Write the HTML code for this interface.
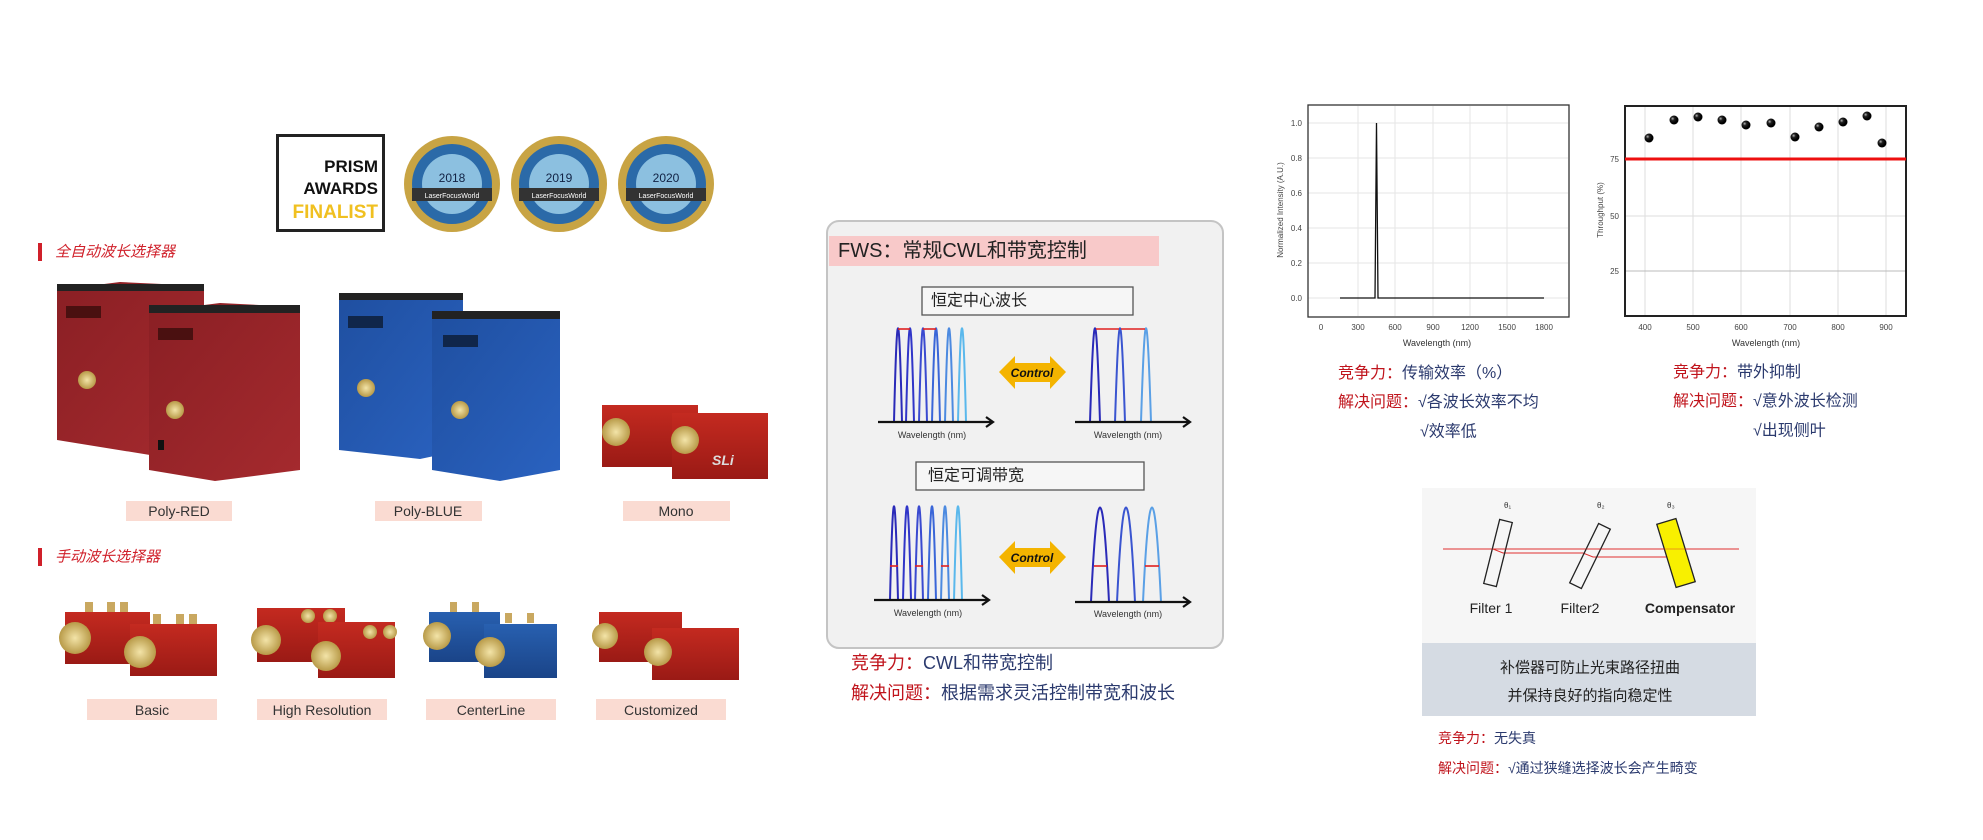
<!DOCTYPE html>
<html><head><meta charset="utf-8"><style>
html,body{margin:0;padding:0;background:#fff;}
svg{display:block;}
text{font-family:"Liberation Sans","Noto Sans CJK SC",sans-serif;}
</style></head><body>
<svg width="1983" height="840" viewBox="0 0 1983 840" xmlns="http://www.w3.org/2000/svg">
<defs>
<linearGradient id="rd" x1="0" y1="0" x2="1" y2="1"><stop offset="0" stop-color="#8a1f24"/><stop offset="1" stop-color="#a52a2e"/></linearGradient>
<linearGradient id="bl" x1="0" y1="0" x2="1" y2="1"><stop offset="0" stop-color="#1f4fa0"/><stop offset="1" stop-color="#2a62c0"/></linearGradient>
<linearGradient id="sr" x1="0" y1="0" x2="0" y2="1"><stop offset="0" stop-color="#c42a20"/><stop offset="1" stop-color="#9a1a15"/></linearGradient>
<linearGradient id="sb" x1="0" y1="0" x2="0" y2="1"><stop offset="0" stop-color="#2860b0"/><stop offset="1" stop-color="#1a4488"/></linearGradient>
<radialGradient id="gold"><stop offset="0" stop-color="#f3e4a8"/><stop offset="1" stop-color="#b89a48"/></radialGradient>
<radialGradient id="ball" cx="0.35" cy="0.35"><stop offset="0" stop-color="#bbb"/><stop offset="0.4" stop-color="#222"/><stop offset="1" stop-color="#000"/></radialGradient>
</defs>

<!-- PRISM -->
<rect x="277.5" y="135.5" width="106" height="95" fill="#fff" stroke="#222" stroke-width="3"/>
<text x="378" y="172" font-size="17" font-weight="bold" text-anchor="end" fill="#111">PRISM</text>
<text x="378" y="194" font-size="17" font-weight="bold" text-anchor="end" fill="#111">AWARDS</text>
<text x="378" y="218" font-size="19" font-weight="bold" text-anchor="end" fill="#f0c020">FINALIST</text>
<!-- medals -->
<g>
<circle cx="452" cy="184" r="48" fill="#c8a444"/><circle cx="452" cy="184" r="40" fill="#2b6aa8"/><circle cx="452" cy="184" r="30" fill="#8cc0e0"/><rect x="412" y="188" width="80" height="13" fill="#333"/><text x="452" y="182" font-size="12" text-anchor="middle" fill="#124">2018</text><text x="452" y="198" font-size="7" text-anchor="middle" fill="#fff">LaserFocusWorld</text>
<circle cx="559" cy="184" r="48" fill="#c8a444"/><circle cx="559" cy="184" r="40" fill="#2b6aa8"/><circle cx="559" cy="184" r="30" fill="#8cc0e0"/><rect x="519" y="188" width="80" height="13" fill="#333"/><text x="559" y="182" font-size="12" text-anchor="middle" fill="#124">2019</text><text x="559" y="198" font-size="7" text-anchor="middle" fill="#fff">LaserFocusWorld</text>
<circle cx="666" cy="184" r="48" fill="#c8a444"/><circle cx="666" cy="184" r="40" fill="#2b6aa8"/><circle cx="666" cy="184" r="30" fill="#8cc0e0"/><rect x="626" y="188" width="80" height="13" fill="#333"/><text x="666" y="182" font-size="12" text-anchor="middle" fill="#124">2020</text><text x="666" y="198" font-size="7" text-anchor="middle" fill="#fff">LaserFocusWorld</text>
</g>

<!-- section headers -->
<rect x="38" y="243" width="4" height="18" fill="#d0202a"/>
<text x="55" y="252" font-size="15" font-style="italic" fill="#d0202a" dominant-baseline="central">全自动波长选择器</text>
<rect x="38" y="548" width="4" height="18" fill="#d0202a"/>
<text x="55" y="557" font-size="15" font-style="italic" fill="#d0202a" dominant-baseline="central">手动波长选择器</text>

<!-- Poly RED -->
<polygon points="57,290 120,282 204,286 204,445 150,455 57,440" fill="url(#rd)"/>
<rect x="57" y="284" width="147" height="7" fill="#222"/>
<rect x="66" y="306" width="35" height="12" fill="#4a1010"/>
<circle cx="87" cy="380" r="9" fill="url(#gold)"/>
<polygon points="149,312 220,303 300,307 300,470 215,481 149,470" fill="url(#rd)"/>
<rect x="149" y="305" width="151" height="8" fill="#222"/>
<rect x="158" y="328" width="35" height="12" fill="#4a1010"/>
<circle cx="175" cy="410" r="9" fill="url(#gold)"/>
<rect x="158" y="440" width="6" height="10" fill="#111"/>
<!-- Poly BLUE -->
<polygon points="339,297 400,293 463,296 463,450 420,459 339,450" fill="url(#bl)"/>
<rect x="339" y="293" width="124" height="7" fill="#222"/>
<rect x="348" y="316" width="35" height="12" fill="#10264a"/>
<circle cx="366" cy="388" r="9" fill="url(#gold)"/>
<polygon points="432,315 500,311 560,314 560,470 500,481 432,470" fill="url(#bl)"/>
<rect x="432" y="311" width="128" height="8" fill="#222"/>
<rect x="443" y="335" width="35" height="12" fill="#10264a"/>
<circle cx="460" cy="410" r="9" fill="url(#gold)"/>
<!-- Mono -->
<rect x="602" y="405" width="96" height="62" fill="url(#sr)"/>
<circle cx="616" cy="432" r="14" fill="url(#gold)"/>
<rect x="672" y="413" width="96" height="66" fill="url(#sr)"/>
<circle cx="685" cy="440" r="14" fill="url(#gold)"/>
<text x="712" y="465" font-size="14" font-weight="bold" font-style="italic" fill="#ddd">SLi</text>

<!-- labels -->
<g font-size="14" fill="#333" text-anchor="middle">
<rect x="126" y="501" width="106" height="20" fill="#fadbd2"/><text x="179" y="516">Poly-RED</text>
<rect x="375" y="501" width="107" height="20" fill="#fadbd2"/><text x="428" y="516">Poly-BLUE</text>
<rect x="623" y="501" width="107" height="20" fill="#fadbd2"/><text x="676" y="516">Mono</text>
<rect x="87" y="699" width="130" height="21" fill="#fadbd2"/><text x="152" y="715">Basic</text>
<rect x="257" y="699" width="130" height="21" fill="#fadbd2"/><text x="322" y="715">High Resolution</text>
<rect x="426" y="699" width="130" height="21" fill="#fadbd2"/><text x="491" y="715">CenterLine</text>
<rect x="596" y="699" width="130" height="21" fill="#fadbd2"/><text x="661" y="715">Customized</text>
</g>

<!-- small products -->
<g>
<rect x="65" y="612" width="85" height="52" fill="url(#sr)"/><circle cx="75" cy="638" r="16" fill="url(#gold)"/>
<rect x="85" y="602" width="8" height="10" fill="#c9a860"/><rect x="107" y="602" width="8" height="10" fill="#c9a860"/><rect x="120" y="602" width="8" height="10" fill="#c9a860"/>
<rect x="130" y="624" width="87" height="52" fill="url(#sr)"/><circle cx="140" cy="652" r="16" fill="url(#gold)"/>
<rect x="153" y="614" width="8" height="10" fill="#c9a860"/><rect x="176" y="614" width="8" height="10" fill="#c9a860"/><rect x="189" y="614" width="8" height="10" fill="#c9a860"/>

<rect x="257" y="608" width="88" height="54" fill="url(#sr)"/><circle cx="266" cy="640" r="15" fill="url(#gold)"/><circle cx="308" cy="616" r="7" fill="url(#gold)"/><circle cx="330" cy="616" r="7" fill="url(#gold)"/>
<rect x="318" y="622" width="77" height="56" fill="url(#sr)"/><circle cx="326" cy="656" r="15" fill="url(#gold)"/><circle cx="370" cy="632" r="7" fill="url(#gold)"/><circle cx="390" cy="632" r="7" fill="url(#gold)"/>

<rect x="429" y="612" width="71" height="50" fill="url(#sb)"/><circle cx="437" cy="636" r="14" fill="url(#gold)"/><rect x="450" y="602" width="7" height="10" fill="#c9a860"/><rect x="472" y="602" width="7" height="10" fill="#c9a860"/>
<rect x="484" y="624" width="73" height="54" fill="url(#sb)"/><circle cx="490" cy="652" r="15" fill="url(#gold)"/><rect x="505" y="613" width="7" height="10" fill="#c9a860"/><rect x="527" y="613" width="7" height="10" fill="#c9a860"/>

<rect x="599" y="612" width="83" height="50" fill="url(#sr)"/><circle cx="605" cy="636" r="13" fill="url(#gold)"/>
<rect x="652" y="628" width="87" height="52" fill="url(#sr)"/><circle cx="658" cy="652" r="14" fill="url(#gold)"/>
</g>

<!-- middle panel -->
<rect x="827" y="221" width="396" height="427" rx="12" fill="#f1f1f1" stroke="#c4c4c4" stroke-width="2"/>
<rect x="829" y="236" width="330" height="30" fill="#f8c9c9"/>
<text x="838" y="251" font-size="20" fill="#222" dominant-baseline="central">FWS：常规CWL和带宽控制</text>
<rect x="922" y="287" width="211" height="28" fill="#f6f6f6" stroke="#555" stroke-width="1.3"/>
<text x="931" y="301" font-size="16" fill="#222" dominant-baseline="central">恒定中心波长</text>
<rect x="916" y="462" width="228" height="28" fill="#f6f6f6" stroke="#555" stroke-width="1.3"/>
<text x="928" y="476" font-size="16" fill="#222" dominant-baseline="central">恒定可调带宽</text>

<g fill="none" stroke-width="2">
<path d="M894 422 C897 297 899 297 902 422" stroke="#2a2ab8"/>
<path d="M906 422 C909 297 911 297 914 422" stroke="#3035c8"/>
<path d="M919 422 C922 297 924 297 927 422" stroke="#3a4ad0"/>
<path d="M932 422 C935 297 937 297 940 422" stroke="#3a66d8"/>
<path d="M945 422 C948 297 950 297 953 422" stroke="#4c8ae0"/>
<path d="M958 422 C961 297 963 297 966 422" stroke="#5ab8ec"/>
<path d="M1090 422 C1094 297 1096 297 1100 422" stroke="#2a2ab8"/>
<path d="M1115 422 C1119 297 1121 297 1125 422" stroke="#3a55d0"/>
<path d="M1141 422 C1145 297 1147 297 1151 422" stroke="#5aa0e6"/>
<path d="M890 600 C893 475 895 475 898 600" stroke="#2a2ab8"/>
<path d="M903 600 C906 475 908 475 911 600" stroke="#3035c8"/>
<path d="M915 600 C918 475 920 475 923 600" stroke="#3a4ad0"/>
<path d="M928 600 C931 475 933 475 936 600" stroke="#3a66d8"/>
<path d="M941 600 C944 475 946 475 949 600" stroke="#4c8ae0"/>
<path d="M954 600 C957 475 959 475 962 600" stroke="#5ab8ec"/>
<path d="M1091 602 C1097 476 1103 476 1109 602" stroke="#2a2ab8"/>
<path d="M1117 602 C1123 476 1129 476 1135 602" stroke="#3a55d0"/>
<path d="M1143 602 C1149 476 1155 476 1161 602" stroke="#5aa0e6"/>
</g>
<g stroke="#111" stroke-width="2.2" fill="none">
<path d="M878 422 H992 M986 417 L993 422 L986 427"/>
<path d="M1075 422 H1189 M1183 417 L1190 422 L1183 427"/>
<path d="M874 600 H988 M982 595 L989 600 L982 605"/>
<path d="M1075 602 H1189 M1183 597 L1190 602 L1183 607"/>
</g>
<g stroke="#e02020" stroke-width="1.6">
<line x1="898" y1="329" x2="910" y2="329"/><line x1="923" y1="329" x2="936" y2="329"/>
<line x1="1096" y1="329" x2="1119" y2="329"/><line x1="1121" y1="329" x2="1145" y2="329"/>
<line x1="890" y1="566" x2="898" y2="566"/><line x1="915" y1="566" x2="923" y2="566"/><line x1="941" y1="566" x2="949" y2="566"/>
<line x1="1094" y1="566" x2="1107" y2="566"/><line x1="1145" y1="566" x2="1159" y2="566"/>
</g>
<g font-size="9" fill="#333" text-anchor="middle">
<text x="932" y="438">Wavelength (nm)</text><text x="1128" y="438">Wavelength (nm)</text>
<text x="928" y="616">Wavelength (nm)</text><text x="1128" y="617">Wavelength (nm)</text>
</g>
<polygon points="999,372 1015,356 1015,363 1050,363 1050,356 1066,372 1050,389 1050,382 1015,382 1015,389" fill="#f4b400"/>
<text x="1032" y="377" font-size="12" font-weight="bold" font-style="italic" text-anchor="middle" fill="#111">Control</text>
<polygon points="999,557 1015,541 1015,548 1050,548 1050,541 1066,557 1050,574 1050,567 1015,567 1015,574" fill="#f4b400"/>
<text x="1032" y="562" font-size="12" font-weight="bold" font-style="italic" text-anchor="middle" fill="#111">Control</text>

<text x="851" y="663" font-size="18" dominant-baseline="central"><tspan fill="#c0141c">竞争力：</tspan><tspan fill="#2b3a6e">CWL和带宽控制</tspan></text>
<text x="851" y="693" font-size="18" dominant-baseline="central"><tspan fill="#c0141c">解决问题：</tspan><tspan fill="#2b3a6e">根据需求灵活控制带宽和波长</tspan></text>

<!-- chart 1 -->
<g stroke="#e6e6e6" stroke-width="1">
<line x1="1308" y1="123" x2="1568" y2="123"/><line x1="1308" y1="158" x2="1568" y2="158"/><line x1="1308" y1="193" x2="1568" y2="193"/><line x1="1308" y1="228" x2="1568" y2="228"/><line x1="1308" y1="263" x2="1568" y2="263"/><line x1="1308" y1="298" x2="1568" y2="298"/>
<line x1="1358" y1="106" x2="1358" y2="316"/><line x1="1395" y1="106" x2="1395" y2="316"/><line x1="1433" y1="106" x2="1433" y2="316"/><line x1="1470" y1="106" x2="1470" y2="316"/><line x1="1507" y1="106" x2="1507" y2="316"/>
</g>
<rect x="1308" y="105" width="261" height="212" fill="none" stroke="#333" stroke-width="1.3"/>
<path d="M1340 298 H1375 L1376.5 123 L1378 298 H1544" fill="none" stroke="#111" stroke-width="1.3"/>
<g font-size="8" fill="#444">
<text x="1302" y="126" text-anchor="end">1.0</text><text x="1302" y="161" text-anchor="end">0.8</text><text x="1302" y="196" text-anchor="end">0.6</text><text x="1302" y="231" text-anchor="end">0.4</text><text x="1302" y="266" text-anchor="end">0.2</text><text x="1302" y="301" text-anchor="end">0.0</text>
<g text-anchor="middle"><text x="1321" y="330">0</text><text x="1358" y="330">300</text><text x="1395" y="330">600</text><text x="1433" y="330">900</text><text x="1470" y="330">1200</text><text x="1507" y="330">1500</text><text x="1544" y="330">1800</text></g>
<text x="1283" y="210" text-anchor="middle" transform="rotate(-90 1283 210)">Normalized Intensity (A.U.)</text>
</g>
<text x="1437" y="346" font-size="9" fill="#333" text-anchor="middle">Wavelength (nm)</text>

<!-- chart 2 -->
<g stroke="#ddd" stroke-width="1">
<line x1="1645" y1="107" x2="1645" y2="316"/><line x1="1693" y1="107" x2="1693" y2="316"/><line x1="1741" y1="107" x2="1741" y2="316"/><line x1="1790" y1="107" x2="1790" y2="316"/><line x1="1838" y1="107" x2="1838" y2="316"/><line x1="1886" y1="107" x2="1886" y2="316"/>
<line x1="1625" y1="216" x2="1906" y2="216"/>
</g>
<line x1="1625" y1="271" x2="1906" y2="271" stroke="#bbb" stroke-width="1"/>
<rect x="1625" y="106" width="281" height="210" fill="none" stroke="#222" stroke-width="2"/>
<line x1="1625" y1="159" x2="1906" y2="159" stroke="#ee1010" stroke-width="3"/>
<g fill="url(#ball)">
<circle cx="1649" cy="138" r="4.5"/><circle cx="1674" cy="120" r="4.5"/><circle cx="1698" cy="117" r="4.5"/><circle cx="1722" cy="120" r="4.5"/><circle cx="1746" cy="125" r="4.5"/><circle cx="1771" cy="123" r="4.5"/><circle cx="1795" cy="137" r="4.5"/><circle cx="1819" cy="127" r="4.5"/><circle cx="1843" cy="122" r="4.5"/><circle cx="1867" cy="116" r="4.5"/><circle cx="1882" cy="143" r="4.5"/>
</g>
<g font-size="8" fill="#444">
<text x="1619" y="162" text-anchor="end">75</text><text x="1619" y="219" text-anchor="end">50</text><text x="1619" y="274" text-anchor="end">25</text>
<g text-anchor="middle"><text x="1645" y="330">400</text><text x="1693" y="330">500</text><text x="1741" y="330">600</text><text x="1790" y="330">700</text><text x="1838" y="330">800</text><text x="1886" y="330">900</text></g>
<text x="1603" y="210" text-anchor="middle" transform="rotate(-90 1603 210)">Throughput (%)</text>
</g>
<text x="1766" y="346" font-size="9" fill="#333" text-anchor="middle">Wavelength (nm)</text>

<g font-size="16" dominant-baseline="central">
<text x="1338" y="373"><tspan fill="#c0141c">竞争力：</tspan><tspan fill="#2b3a6e">传输效率（%）</tspan></text>
<text x="1338" y="402"><tspan fill="#c0141c">解决问题：</tspan><tspan fill="#2b3a6e">√各波长效率不均</tspan></text>
<text x="1420" y="432" fill="#2b3a6e">√效率低</text>
<text x="1673" y="372"><tspan fill="#c0141c">竞争力：</tspan><tspan fill="#2b3a6e">带外抑制</tspan></text>
<text x="1673" y="401"><tspan fill="#c0141c">解决问题：</tspan><tspan fill="#2b3a6e">√意外波长检测</tspan></text>
<text x="1753" y="431" fill="#2b3a6e">√出现侧叶</text>
</g>

<!-- filter diagram -->
<rect x="1422" y="488" width="334" height="155" fill="#f6f6f6"/>
<rect x="1422" y="643" width="334" height="73" fill="#d5dbe3"/>
<line x1="1443" y1="549" x2="1739" y2="549" stroke="#e03030" stroke-width="1"/>
<path d="M1493 549 L1503 553 L1583 553 L1593 557 L1666 557 L1682 551" fill="none" stroke="#e03030" stroke-width="1"/>
<rect x="1491.5" y="520" width="13" height="66" fill="none" stroke="#222" stroke-width="1.3" transform="rotate(14 1498 553)"/>
<rect x="1583.5" y="523" width="13" height="66" fill="none" stroke="#222" stroke-width="1.3" transform="rotate(26 1590 556)"/>
<rect x="1666" y="520" width="20" height="66" fill="#f8f000" stroke="#222" stroke-width="1.3" transform="rotate(-17 1676 553)"/>
<line x1="1443" y1="549" x2="1739" y2="549" stroke="#e03030" stroke-width="0.8" opacity="0.6"/>
<g font-size="8" font-family="Liberation Serif,serif" fill="#333"><text x="1504" y="508">θ₁</text><text x="1597" y="508">θ₂</text><text x="1667" y="508">θ₃</text></g>
<g font-size="14" fill="#222" dominant-baseline="central" text-anchor="middle">
<text x="1491" y="608">Filter 1</text><text x="1580" y="608">Filter2</text><text x="1690" y="608" font-weight="bold">Compensator</text>
<text x="1590" y="668" font-size="15">补偿器可防止光束路径扭曲</text>
<text x="1590" y="696" font-size="15">并保持良好的指向稳定性</text>
</g>
<g font-size="14" dominant-baseline="central">
<text x="1438" y="738"><tspan fill="#c0141c">竞争力：</tspan><tspan fill="#2b3a6e">无失真</tspan></text>
<text x="1438" y="768"><tspan fill="#c0141c">解决问题：</tspan><tspan fill="#2b3a6e">√通过狭缝选择波长会产生畸变</tspan></text>
</g>
</svg>
</body></html>
